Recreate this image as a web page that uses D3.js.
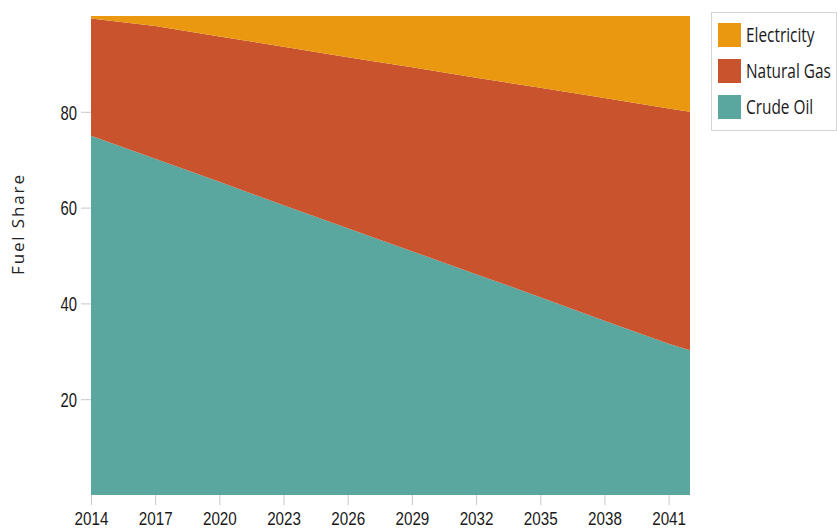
<!DOCTYPE html>
<html><head><meta charset="utf-8">
<script src="https://cdn.jsdelivr.net/npm/d3@7"></script>
<style>
body{margin:0;background:#fff;}
svg{font-family:"Open Sans","Noto Sans",sans-serif;}
</style></head>
<body><svg id="c" width="837" height="531"></svg>
<script>
const years = [2014, 2017, 2020, 2023, 2026, 2029, 2032, 2035, 2038, 2041, 2042];
const crudeOil = [75, 70.2, 65.4, 60.5, 55.7, 50.9, 46.1, 41.3, 36.4, 31.6, 30.2];
const naturalGas = [24.5, 27.7, 30.3, 33.1, 35.7, 38.4, 41.0, 43.7, 46.5, 49.1, 49.8];
const electricity = [0.5, 2.1, 4.3, 6.4, 8.6, 10.7, 12.9, 15.0, 17.1, 19.3, 20.0];
const seriesNames = ["Crude Oil", "Natural Gas", "Electricity"];
const colors = ["#5aa7a0", "#c9532d", "#e9980f"];
const xTicks = [2014, 2017, 2020, 2023, 2026, 2029, 2032, 2035, 2038, 2041];
const yTicks = [20, 40, 60, 80];

const svg = d3.select("#c");
const m = {left: 91, right: 147, top: 16, bottom: 36};
const W = 837, H = 531;
const x = d3.scaleLinear().domain([2014, 2042]).range([m.left, W - m.right]);
const y = d3.scaleLinear().domain([0, 100]).range([H - m.bottom, m.top]);

const rows = years.map((yr, i) => ({year: yr, "Crude Oil": crudeOil[i], "Natural Gas": naturalGas[i], "Electricity": electricity[i]}));
const layers = d3.stack().keys(seriesNames)(rows);
const area = d3.area().x(d => x(d.data.year)).y0(d => y(d[0])).y1(d => y(d[1]));

svg.append("g").selectAll("path").data(layers).join("path")
  .attr("d", area).attr("fill", (d, i) => colors[i]);

function condense(sel, f) {
  sel.each(function() {
    const w = this.getComputedTextLength();
    d3.select(this).attr("textLength", w * f).attr("lengthAdjust", "spacingAndGlyphs");
  });
}

// y axis
const ya = svg.append("g").attr("transform", `translate(${m.left},0)`)
  .call(d3.axisLeft(y).tickValues(yTicks).tickSize(10).tickPadding(4));
ya.select(".domain").remove();
ya.selectAll("line").attr("stroke", "#c8c8c8");
ya.selectAll("text").attr("font-size", 20).attr("fill", "#1a1a1a").attr("dy", "0.36em");
condense(ya.selectAll("text"), 0.74);

// x axis
const xa = svg.append("g").attr("transform", `translate(0,${H - m.bottom})`)
  .call(d3.axisBottom(x).tickValues(xTicks).tickFormat(d3.format("d")).tickSize(10));
xa.select(".domain").remove();
xa.selectAll("line").attr("stroke", "#c8c8c8");
xa.selectAll("text").attr("font-size", 19).attr("fill", "#1a1a1a").attr("y", 30).attr("dy", 0);
condense(xa.selectAll("text"), 0.8);

svg.append("text").attr("transform", `translate(24,225) rotate(-90)`)
  .attr("text-anchor", "middle").attr("font-size", 17)
  .attr("fill", "#222").attr("textLength", 100).attr("lengthAdjust", "spacing")
  .text("Fuel Share");

// legend
const lg = svg.append("g").attr("transform", "translate(711,12)");
lg.append("rect").attr("x", 0.5).attr("y", 0.5).attr("width", 125).attr("height", 118)
  .attr("fill", "#fff").attr("stroke", "#d4d4d4");
const legItems = ["Electricity", "Natural Gas", "Crude Oil"];
const legColors = [colors[2], colors[1], colors[0]];
legItems.forEach((t, i) => {
  const g = lg.append("g").attr("transform", `translate(7,${11 + i * 36})`);
  g.append("rect").attr("width", 23).attr("height", 24).attr("fill", legColors[i]);
  g.append("g").attr("transform", "translate(28,19) scale(0.77,1)")
    .append("text").attr("font-size", 20).attr("fill", "#1a1a1a").text(t);
});
</script></body></html>
